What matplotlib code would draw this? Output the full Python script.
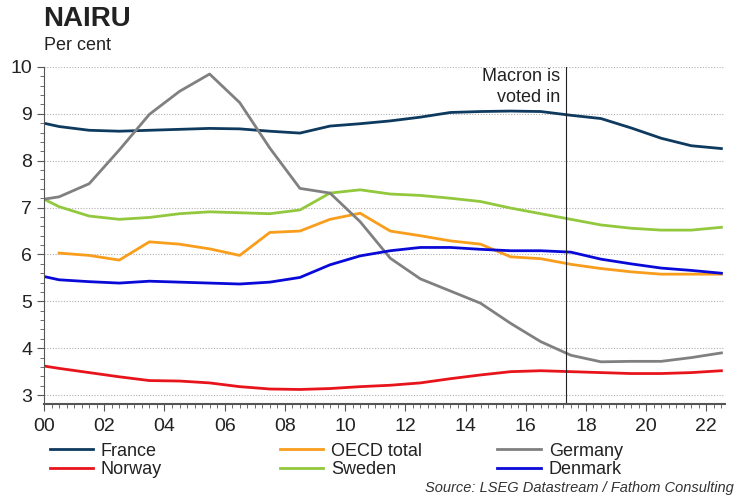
import numpy as np
import matplotlib
matplotlib.use("Agg")
import matplotlib.pyplot as plt
from matplotlib.ticker import MultipleLocator

plt.rcParams['font.family'] = ['Liberation Sans', 'DejaVu Sans']

# =========================
# DATA (years since 2000, mid-year points)
# =========================
years = [0.0, 0.5, 1.5, 2.5, 3.5, 4.5, 5.5, 6.5, 7.5, 8.5, 9.5, 10.5,
         11.5, 12.5, 13.5, 14.5, 15.5, 16.5, 17.5, 18.5, 19.5, 20.5, 21.5, 22.5]

france = [8.80, 8.73, 8.65, 8.63, 8.65, 8.67, 8.69, 8.68, 8.63, 8.59, 8.74, 8.79,
          8.85, 8.93, 9.03, 9.05, 9.06, 9.05, 8.97, 8.90, 8.70, 8.48, 8.32, 8.26]
oecd = [np.nan, 6.03, 5.98, 5.88, 6.27, 6.22, 6.12, 5.98, 6.47, 6.50, 6.75, 6.88,
        6.50, 6.40, 6.29, 6.22, 5.95, 5.91, 5.79, 5.70, 5.63, 5.58, 5.58, 5.58]
germany = [7.18, 7.23, 7.51, 8.23, 8.99, 9.48, 9.85, 9.24, 8.27, 7.41, 7.31, 6.70,
           5.92, 5.48, 5.22, 4.96, 4.53, 4.14, 3.85, 3.71, 3.72, 3.72, 3.80, 3.90]
norway = [3.62, 3.57, 3.48, 3.39, 3.31, 3.30, 3.26, 3.18, 3.13, 3.12, 3.14, 3.18,
          3.21, 3.26, 3.35, 3.43, 3.50, 3.52, 3.50, 3.48, 3.46, 3.46, 3.48, 3.52]
sweden = [7.18, 7.02, 6.82, 6.75, 6.79, 6.87, 6.91, 6.89, 6.87, 6.95, 7.31, 7.38,
          7.29, 7.26, 7.20, 7.13, 6.99, 6.87, 6.75, 6.63, 6.56, 6.52, 6.52, 6.58]
denmark = [5.53, 5.46, 5.42, 5.39, 5.43, 5.41, 5.39, 5.37, 5.41, 5.51, 5.78, 5.97,
           6.08, 6.15, 6.15, 6.11, 6.08, 6.08, 6.05, 5.90, 5.80, 5.71, 5.66, 5.60]

tick_years = [0, 2, 4, 6, 8, 10, 12, 14, 16, 18, 20, 22]
tick_labels = ['00', '02', '04', '06', '08', '10', '12', '14', '16', '18', '20', '22']
macron_year = 17.35

# =========================
# PLOT
# =========================
fig = plt.figure(figsize=(7.5, 5), dpi=100)
ax = fig.add_axes([0.0587, 0.192, 0.908, 0.674])

l_fr, = ax.plot(years, france, color='#0e3a5f', lw=2.0, label='France')
l_no, = ax.plot(years, norway, color='#e8141c', lw=2.0, label='Norway')
l_oe, = ax.plot(years, oecd, color='#f99d1c', lw=2.0, label='OECD total')
l_sw, = ax.plot(years, sweden, color='#92c83e', lw=2.0, label='Sweden')
l_ge, = ax.plot(years, germany, color='#808080', lw=2.0, label='Germany')
l_de, = ax.plot(years, denmark, color='#0a0ad8', lw=2.0, label='Denmark')

ax.axvline(macron_year, color='#222222', lw=0.8)
ax.text(macron_year - 0.2, 9.97, 'Macron is\nvoted in', ha='right', va='top',
        fontsize=13, color='#222222', linespacing=1.25)

ax.set_xlim(0, 22.62)
ax.set_ylim(2.81, 10)
ax.set_xticks(tick_years)
ax.set_xticklabels(tick_labels)
ax.xaxis.set_minor_locator(MultipleLocator(0.25))
ax.set_yticks(range(3, 11))
ax.yaxis.set_minor_locator(MultipleLocator(0.2))

ax.grid(axis='y', which='major', color='#b0b0b0', ls=(0, (1, 1.5)), lw=0.8)
for s in ['top', 'right']:
    ax.spines[s].set_visible(False)
ax.spines['left'].set_color('#555555')
ax.spines['bottom'].set_color('#555555')
ax.spines['bottom'].set_linewidth(1.5)

ax.tick_params(axis='both', which='major', labelsize=14, colors='#555555',
               labelcolor='#222222', length=5)
ax.tick_params(axis='both', which='minor', colors='#555555', length=3)
ax.tick_params(axis='x', which='major', pad=5)

# titles
fig.text(0.058, 0.963, 'NAIRU', fontsize=20, fontweight='bold', color='#222222',
         va='center', ha='left')
fig.text(0.058, 0.908, 'Per cent', fontsize=13, color='#222222', va='center', ha='left')

# legend: one per column so spacing matches
columns = [([l_fr, l_no], 0.066), ([l_oe, l_sw], 0.373), ([l_ge, l_de], 0.663)]
for handles, xpos in columns:
    leg = fig.legend(handles=handles, loc='upper left', bbox_to_anchor=(xpos, 0.115),
                     frameon=False, fontsize=13, handlelength=2.4, handletextpad=0.45,
                     labelspacing=0.08, borderpad=0, borderaxespad=0)
    for t in leg.get_texts():
        t.set_color('#222222')

fig.text(0.978, 0.024, 'Source: LSEG Datastream / Fathom Consulting', fontsize=10.5,
         style='italic', color='#333333', ha='right', va='center')

fig.savefig('out.png', dpi=100)
